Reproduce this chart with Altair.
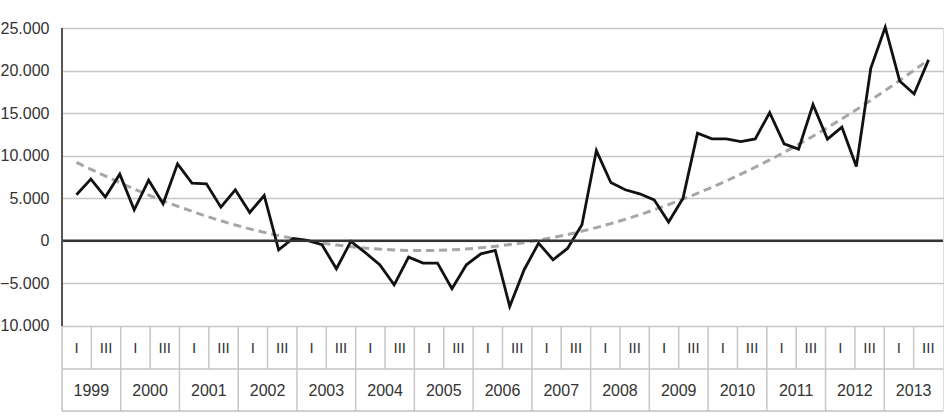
import altair as alt
import pandas as pd

# ---- data ---------------------------------------------------------------
years = list(range(1999, 2014))
half_labels = ["I", "III"]
values = [5400, 7240, 5130, 7830, 3640, 7120, 4340, 9040, 6770, 6690,
          3950, 5990, 3320, 5320, -1060, 270, 35, -470, -3290, -80,
          -1400, -2820, -5170, -1920, -2620, -2620, -5640, -2820, -1530, -1140,
          -7710, -3400, -270, -2230, -900, 1880, 10600, 6840, 5990, 5520,
          4810, 2200, 5010, 12640, 11970, 11970, 11660, 11970, 15060, 11390,
          10770, 16000, 11940, 13350, 8720, 20270, 25090, 18780, 17250, 21250]
# dashed trend line at a few quarter positions
trend_idx = [0, 6, 12, 18, 24, 30, 36, 42, 48, 54, 59]
trend_vals = [9200, 4700, 1400, -500, -1150, -450, 1550, 4900, 9500, 15400, 21250]
y_ticks = [-10000, -5000, 0, 5000, 10000, 15000, 20000, 25000]

FONT = "Liberation Sans"
W, H = 881, 383
ROW1_TOP, ROW1_BOT, ROW2_BOT = 298, 341, 383

df = pd.DataFrame({"i": list(range(len(values))), "v": values})
dtr = pd.DataFrame({"i": trend_idx, "v": trend_vals})

n_q = len(years) * 4
halves = pd.DataFrame({
    "q0": [k * 2 for k in range(len(years) * 2)],
    "qc": [k * 2 + 1 for k in range(len(years) * 2)],
    "lab": [half_labels[k % 2] for k in range(len(years) * 2)],
})
yrs = pd.DataFrame({
    "q0": [k * 4 for k in range(len(years))],
    "qc": [k * 4 + 2 for k in range(len(years))],
    "lab": [str(y) for y in years],
})

# ---- encodings ----------------------------------------------------------
x_line = alt.X("i:Q", scale=alt.Scale(domain=[-1, len(values)], nice=False, zero=False), axis=None)
y_scale = alt.Scale(domain=[-20000, 25000], nice=False, zero=False)
y_axis = alt.Axis(values=y_ticks, grid=True, gridColor="#c6c6c6", gridWidth=1.6,
                  domain=False, ticks=False, tickSize=0, labelPadding=13,
                  labelFontSize=16, labelFont=FONT, labelColor="#333333",
                  labelExpr="replace(format(datum.value, ','), ',', '.')", title=None)

trend = alt.Chart(dtr).mark_line(color="#a6a6a6", strokeWidth=3, strokeDash=[8, 5],
                                 interpolate="monotone").encode(
    x=x_line, y=alt.Y("v:Q", scale=y_scale, axis=y_axis))

line = alt.Chart(df).mark_line(color="#111111", strokeWidth=2.8, strokeJoin="miter").encode(
    x=x_line, y=alt.Y("v:Q", scale=y_scale))

zero = alt.Chart(pd.DataFrame({"z": [0]})).mark_rule(color="#333333", strokeWidth=2.6).encode(
    y=alt.Y("z:Q", scale=y_scale), x=alt.value(0), x2=alt.value(W))

left = alt.Chart(pd.DataFrame({"a": [y_ticks[-1]], "b": [y_ticks[0]]})).mark_rule(
    color="#555555", strokeWidth=2).encode(
    x=alt.value(0), y=alt.Y("a:Q", scale=y_scale), y2="b:Q")

x_tab = alt.Scale(domain=[0, n_q], nice=False, zero=False)

half_sep = alt.Chart(halves).mark_rule(color="#c6c6c6", strokeWidth=1.5).encode(
    x=alt.X("q0:Q", scale=x_tab, axis=None), y=alt.value(ROW1_TOP), y2=alt.value(ROW1_BOT))
year_sep = alt.Chart(yrs).mark_rule(color="#c6c6c6", strokeWidth=1.5).encode(
    x=alt.X("q0:Q", scale=x_tab, axis=None), y=alt.value(ROW1_BOT), y2=alt.value(ROW2_BOT))
hlines = alt.Chart(pd.DataFrame({"r": [ROW1_BOT, ROW2_BOT]})).mark_rule(
    color="#c6c6c6", strokeWidth=1.5).encode(
    x=alt.value(0), x2=alt.value(W), y=alt.Y("r:Q", scale=None))
half_txt = alt.Chart(halves).mark_text(font=FONT, fontSize=15, color="#333333", baseline="middle").encode(
    x=alt.X("qc:Q", scale=x_tab, axis=None), y=alt.value((ROW1_TOP + ROW1_BOT) / 2), text="lab:N")
year_txt = alt.Chart(yrs).mark_text(font=FONT, fontSize=16, color="#333333", baseline="middle").encode(
    x=alt.X("qc:Q", scale=x_tab, axis=None), y=alt.value((ROW1_BOT + ROW2_BOT) / 2 + 1), text="lab:N")

table = alt.layer(half_sep, year_sep, hlines, half_txt, year_txt)
plot = alt.layer(trend, line, zero, left)

chart = alt.layer(plot, table).resolve_scale(x="independent").properties(
    width=W, height=H,
    autosize=alt.AutoSizeParams(type="none"),
    padding={"left": 62, "top": 28, "right": 949 - 62 - W, "bottom": 416 - 28 - H},
).configure_view(stroke=None).configure(background="white")

chart.save("out.html", embed_options={"renderer": "svg", "actions": False})
